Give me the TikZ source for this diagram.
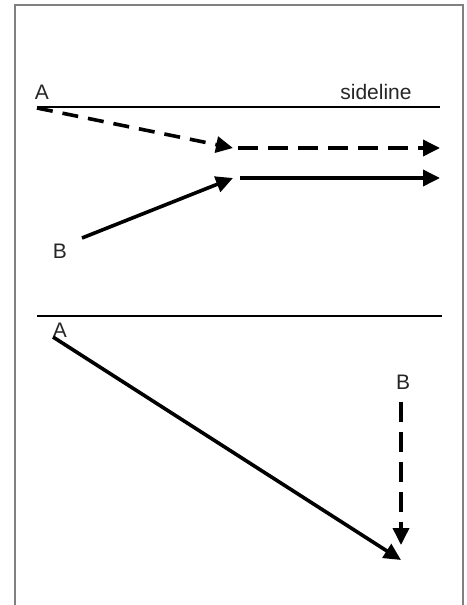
\documentclass[tikz,border=0pt]{standalone}
\usepackage{fontspec}
\setmainfont{Liberation Sans}
\usetikzlibrary{arrows.meta}
\begin{document}
\begin{tikzpicture}[x=1pt,y=-1pt,
  lbl/.style={font=\fontsize{21}{24}\selectfont, inner sep=0pt, text=black!85},
  mv/.style={line width=3.6pt, -{Triangle[length=17pt,width=16pt]}},
  mvdash/.style={mv, dash pattern=on 16pt off 10pt},
  field/.style={line width=2.4pt}]
\useasboundingbox (0,0) rectangle (466,605);
\draw[gray, line width=2pt] (15,610) -- (15,5) -- (463,5) -- (463,610);
% top scene
\node[lbl] (A1) at (42,92) {A};
\node[lbl] (side) at (376,92) {sideline};
\coordinate (s1l) at (37,107);
\coordinate (s1r) at (440,107);
\draw[field] (s1l) -- (s1r);
\coordinate (a1s) at (37,108);
\coordinate (a1m) at (233,148);
\coordinate (a1m2) at (238,148);
\coordinate (a1e) at (440,148);
\draw[mvdash] (a1s) -- (a1m);
\draw[mvdash, dash pattern=on 20pt off 10pt] (a1m2) -- (a1e);
\node[lbl] (B1) at (60,251) {B};
\coordinate (b1s) at (82,238);
\coordinate (b1m) at (233,178);
\coordinate (b1m2) at (240,178);
\coordinate (b1e) at (440,178);
\draw[mv] (b1s) -- (b1m);
\draw[mv] (b1m2) -- (b1e);
% bottom scene
\coordinate (s2l) at (37,316);
\coordinate (s2r) at (442,316);
\draw[field] (s2l) -- (s2r);
\node[lbl] (A2) at (60,330) {A};
\coordinate (a2s) at (53,337);
\coordinate (a2e) at (401,560);
\draw[mv] (a2s) -- (a2e);
\node[lbl] (B2) at (403,382) {B};
\coordinate (b2s) at (401,402);
\coordinate (b2e) at (401,545);
\draw[mvdash, dash pattern=on 20pt off 10pt] (b2s) -- (b2e);
\end{tikzpicture}
\end{document}
